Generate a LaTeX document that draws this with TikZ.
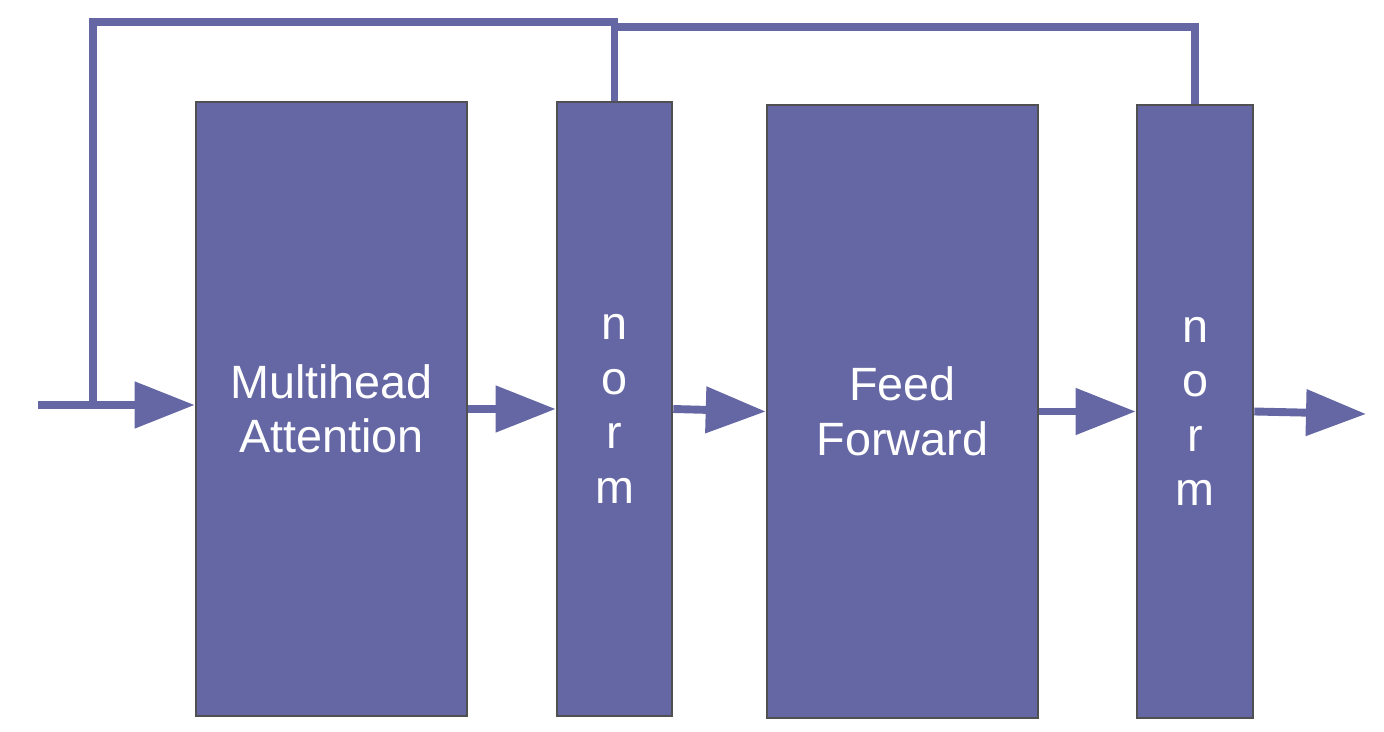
\documentclass[tikz,border=0pt]{standalone}
\usepackage{fontspec}
\setmainfont{Liberation Sans}
\usetikzlibrary{arrows.meta}
\definecolor{blockblue}{RGB}{101,103,164}
\definecolor{blockedge}{RGB}{80,80,82}
\tikzset{
  block/.style={rectangle,fill=blockblue,draw=blockedge,line width=1.5pt,inner sep=0pt,
    text=white,align=center,font=\fontsize{26.6}{31}\selectfont},
  flow/.style={draw=blockblue,line width=4.5pt,-{Triangle[length=1.2cm,width=0.9cm]}},
  skip/.style={draw=blockblue,line width=4.5pt}
}
\begin{document}
\begin{tikzpicture}[x=0.02cm,y=-0.02cm]
    \useasboundingbox (0,0) rectangle (1384,732);
    \node[block,minimum width=5.42cm,minimum height=12.28cm] at (331.5,409) (mha) {Multihead\\Attention};
    \node[block,minimum width=2.3cm,minimum height=12.28cm] at (614.5,409) (norm1) {n\\o\\r\\m};
    \node[block,minimum width=5.42cm,minimum height=12.26cm] at (902.5,411.5) (ff) {Feed\\Forward};
    \node[block,minimum width=2.32cm,minimum height=12.26cm] at (1195,411.5) (norm2) {n\\o\\r\\m};
    \coordinate (in) at (38,405);
    \coordinate (split) at (93,405);
    \coordinate (out) at (1366,414);
    \draw[flow] (in) -- (in -| mha.west);
    \draw[flow] (mha.east) -- (norm1.west);
    \draw[flow] (norm1.east) -- (ff.west);
    \draw[flow] (ff.east) -- (norm2.west);
    \draw[flow] (norm2.east) -- (out);
    % residual connections
    \draw[skip] (split) |- (norm1.north |- 0,22) -- (norm1.north);
    \draw[skip] (norm1.north) |- (norm2.north |- 0,27) -- (norm2.north);
\end{tikzpicture}
\end{document}
